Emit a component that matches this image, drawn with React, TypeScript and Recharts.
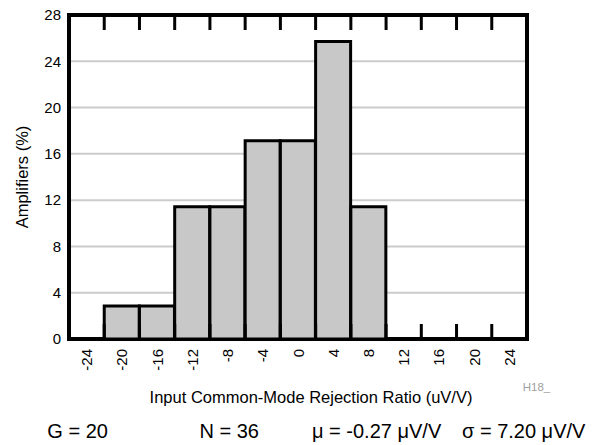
import React from 'react';
import { BarChart, Bar, XAxis, YAxis, CartesianGrid, ReferenceLine, ReferenceArea } from 'recharts';

const categories = [-24, -20, -16, -12, -8, -4, 0, 4, 8, 12, 16, 20, 24];
const amplifiersPct = [0, 2.86, 2.86, 11.43, 11.43, 17.14, 17.14, 25.71, 11.43, 0, 0, 0, 0];
const yTicks = [0, 4, 8, 12, 16, 20, 24, 28];
const binEdges = categories.slice(1);

const data = categories.map((c, i) => ({ x: c, pct: amplifiersPct[i] }));

const FONT = '"Liberation Sans", Arial, Helvetica, sans-serif';
const Y_MAX = 28;
const CHART_W = 608;
const CHART_H = 445;
const MARGIN = { top: 15, right: 81, bottom: 66, left: 0 };
const Y_AXIS_W = 69;
const X_AXIS_H = 40;
const PLOT_LEFT = MARGIN.left + Y_AXIS_W;
const PLOT_TOP = MARGIN.top;
const PLOT_H = CHART_H - MARGIN.top - MARGIN.bottom - X_AXIS_H;
const PLOT_BOTTOM = PLOT_TOP + PLOT_H;
const PLOT_W = CHART_W - MARGIN.left - MARGIN.right - Y_AXIS_W;
const TICK_PX = 15;
const TICK_LEN = (TICK_PX / PLOT_H) * Y_MAX; // tick length in y units

const XTick = (props: any) => {
  const { x, y, payload } = props;
  return (
    <text
      x={x}
      y={y}
      transform={`rotate(-90 ${x} ${y})`}
      textAnchor="end"
      dominantBaseline="central"
      fontSize={15}
      fill="#000"
      fontFamily={FONT}
    >
      {payload.value}
    </text>
  );
};

const YTitle = (props: any) => {
  const vb = props.viewBox || { x: 0, y: PLOT_TOP, width: Y_AXIS_W, height: PLOT_H };
  const cx = 28;
  const cy = vb.y + vb.height / 2;
  return (
    <text
      x={cx}
      y={cy}
      transform={`rotate(-90 ${cx} ${cy})`}
      textAnchor="middle"
      fontSize={16.5}
      fill="#000"
      fontFamily={FONT}
    >
      Amplifiers (%)
    </text>
  );
};

const XTitle = (props: any) => {
  const vb = props.viewBox || { x: PLOT_LEFT, y: PLOT_BOTTOM, width: PLOT_W, height: X_AXIS_H };
  const cx = vb.x + vb.width / 2 + 13;
  return (
    <text x={cx} y={402.7} textAnchor="middle" fontSize={16.5} fill="#000" fontFamily={FONT}>
      Input Common-Mode Rejection Ratio (uV/V)
    </text>
  );
};

export default function App() {
  return (
    <div style={{ position: 'absolute', left: 0, top: 0, width: CHART_W, height: CHART_H, background: '#fff', fontFamily: FONT }}>
      <BarChart
        width={CHART_W}
        height={CHART_H}
        data={data}
        margin={MARGIN}
        barCategoryGap={0}
        barGap={0}
      >
        <CartesianGrid vertical={false} stroke="#cccccc" strokeWidth={2} />
        <XAxis
          dataKey="x"
          type="category"
          interval={0}
          height={X_AXIS_H}
          tickLine={false}
          axisLine={false}
          tickMargin={4}
          tick={<XTick />}
          label={<XTitle />}
        />
        <YAxis
          type="number"
          domain={[0, Y_MAX]}
          ticks={yTicks}
          width={Y_AXIS_W}
          tickLine={false}
          axisLine={false}
          tick={{ fontSize: 15, fill: '#000' }}
          label={<YTitle />}
        />
        <Bar dataKey="pct" fill="#c8c8c8" stroke="#000" strokeWidth={3} isAnimationActive={false} />
        {binEdges.map((c) => (
          <ReferenceLine
            key={`top${c}`}
            ifOverflow="visible"
            position="start"
            segment={[{ x: c, y: Y_MAX }, { x: c, y: Y_MAX - TICK_LEN }]}
            stroke="#000"
            strokeWidth={3}
          />
        ))}
        {binEdges.map((c) => (
          <ReferenceLine
            key={`bot${c}`}
            ifOverflow="visible"
            position="start"
            segment={[{ x: c, y: 0 }, { x: c, y: TICK_LEN }]}
            stroke="#000"
            strokeWidth={3}
          />
        ))}
        <ReferenceArea y1={0} y2={Y_MAX} ifOverflow="visible" fill="none" fillOpacity={0} stroke="#000" strokeWidth={4} strokeOpacity={1} />
      </BarChart>
      <svg width={CHART_W} height={CHART_H} style={{ position: 'absolute', left: 0, top: 0, pointerEvents: 'none' }}>
        <text x={522.7} y={390.7} fontSize={11.5} fill="#a0a0a0" fontFamily={FONT}>H18_</text>
        <text x={47.3} y={438.3} fontSize={20} fill="#000" fontFamily={FONT}>G = 20</text>
        <text x={199.5} y={438.3} fontSize={20} fill="#000" fontFamily={FONT}>N = 36</text>
        <text x={312} y={438.3} fontSize={20} fill="#000" fontFamily={FONT}>μ = -0.27 μV/V</text>
        <text x={462} y={438.3} fontSize={20} fill="#000" fontFamily={FONT}>σ = 7.20 μV/V</text>
      </svg>
    </div>
  );
}
